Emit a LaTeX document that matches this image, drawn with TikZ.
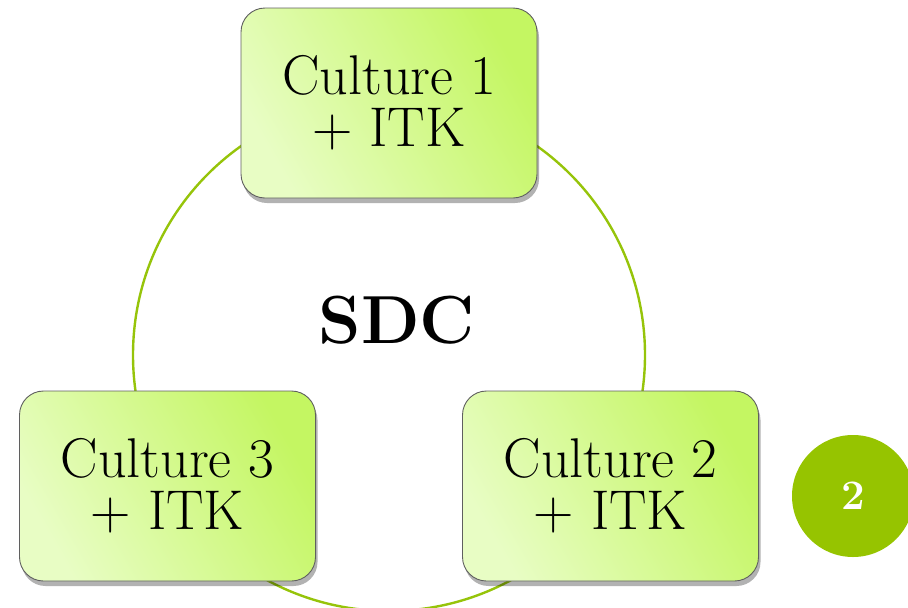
\documentclass[tikz,border=0pt]{standalone}
\usetikzlibrary{shadows}
\definecolor{ringgreen}{RGB}{150,196,10}
\definecolor{dotgreen}{RGB}{150,196,0}
\definecolor{boxlight}{RGB}{232,253,196}
\definecolor{boxbright}{RGB}{196,246,98}
\definecolor{boxedge}{RGB}{95,95,95}
\tikzset{
  culturebox/.style={draw=boxedge, line width=0.9pt, rounded corners=24pt,
    minimum width=296pt, minimum height=190pt, align=center,
    shading=axis, top color=boxbright, bottom color=boxlight, shading angle=-60,
    font=\fontsize{56}{52}\selectfont,
    drop shadow={shadow xshift=2pt, shadow yshift=-5pt, fill=black, opacity=0.3}},
  ring/.style={draw=ringgreen, line width=2.4pt, circle, minimum size=512pt, inner sep=0pt},
  pagedot/.style={circle, fill=dotgreen, minimum size=122pt, inner sep=0pt,
    text=white, font=\fontsize{42}{44}\selectfont\bfseries}
}
\begin{document}
\begin{tikzpicture}[x=1pt,y=-1pt]
\useasboundingbox (0,0) rectangle (908,608);
\node[ring] (cycle) at (389,355) {};
\node[font=\fontsize{68}{70}\selectfont\bfseries] (sdc) at (397,320) {SDC};
\node[culturebox] (c1) at (389,103) {Culture 1\\+ ITK};
\node[culturebox] (c3) at (167.5,486) {Culture 3\\+ ITK};
\node[culturebox] (c2) at (610.5,486) {Culture 2\\+ ITK};
\node[pagedot] (page) at (853,496) {2};
\end{tikzpicture}
\end{document}
